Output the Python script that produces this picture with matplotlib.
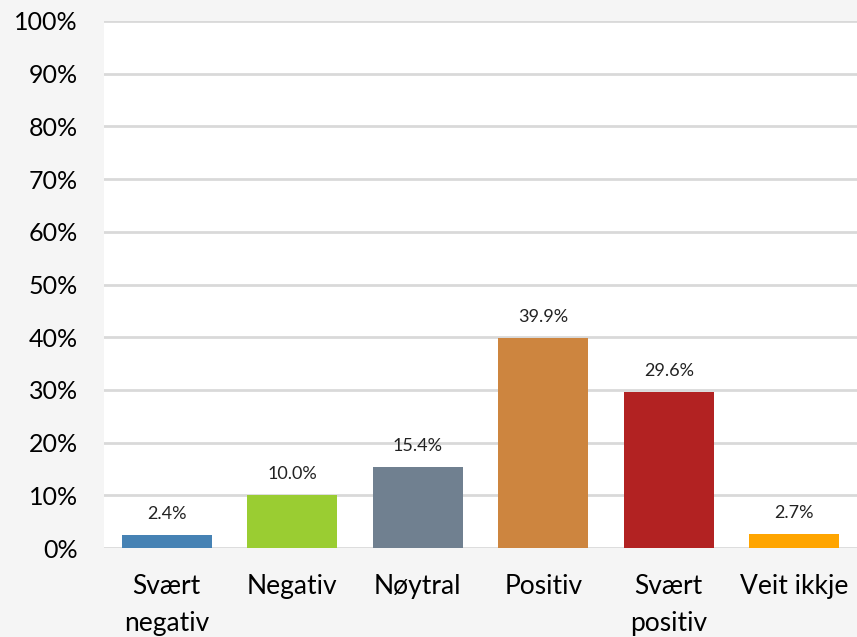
import numpy as np
import matplotlib.pyplot as plt
from matplotlib.ticker import FuncFormatter

categories = ["Svært\nnegativ", "Negativ", "Nøytral", "Positiv", "Svært\npositiv", "Veit ikkje"]
values = [2.4, 10.0, 15.4, 39.9, 29.6, 2.7]
colors = ["#4682B4", "#9ACD32", "#708090", "#CD853F", "#B22222", "#FFA500"]
y_ticks = np.arange(0, 101, 10)

plt.rcParams['font.family'] = ['Lato', 'DejaVu Sans']

fig = plt.figure(figsize=(8.57, 6.37), dpi=100, facecolor='#f5f5f5')
ax = fig.add_axes([104 / 857, 1 - 548 / 637, 1 - 104 / 857, (548 - 21) / 637])
ax.set_facecolor('white')

x = np.arange(len(categories))
bars = ax.bar(x, values, width=0.715, color=colors, zorder=3)

for rect, v in zip(bars, values):
    ax.annotate(f"{v:.1f}%", (rect.get_x() + rect.get_width() / 2, v),
                xytext=(0, 21), textcoords='offset pixels',
                ha='center', va='center', fontsize=13, color='#222222')

ax.set_xlim(-0.5, len(categories) - 0.5)
ax.set_ylim(0, 100)
ax.set_yticks(y_ticks)
ax.yaxis.set_major_formatter(FuncFormatter(lambda v, p: f"{v:.0f}%"))
ax.grid(axis='y', color='#d9d9d9', linewidth=2, zorder=0)
ax.set_xticks(x)
ax.set_xticklabels(categories, fontsize=19, linespacing=1.6)
ax.tick_params(axis='y', labelsize=18, length=0, pad=19)
ax.tick_params(axis='x', length=0, pad=19)
for s in ax.spines.values():
    s.set_visible(False)

fig.savefig("out.png", dpi=100, facecolor=fig.get_facecolor())
